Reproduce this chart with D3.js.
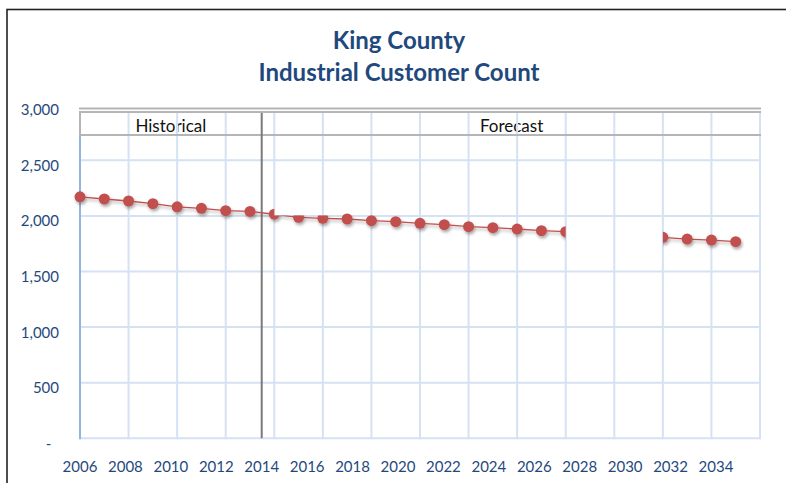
<!DOCTYPE html>
<html>
<head>
<meta charset="utf-8">
<script src="https://cdn.jsdelivr.net/npm/d3@7"></script>
<style>
  html, body { margin: 0; padding: 0; background: #fff; }
  svg { display: block; }
  text { font-family: Lato, "Open Sans", sans-serif; }
</style>
</head>
<body>
<svg id="chart" width="786" height="483"></svg>
<script>
// ---- data ----
const titleLines = ["King County", "Industrial Customer Count"];
const years = [2006, 2007, 2008, 2009, 2010, 2011, 2012, 2013, 2014, 2015,
               2016, 2017, 2018, 2019, 2020, 2021, 2022, 2023, 2024, 2025,
               2026, 2027, 2028, 2029, 2030, 2031, 2032, 2033];
const customers = [2172, 2152, 2134, 2110, 2082, 2068, 2047, 2040, 2015, 1987,
                   1978, 1972, 1957, 1948, 1933, 1921, 1903, 1894, 1882, 1867,
                   1858, null, null, null, 1807, 1792, 1783, 1768];
const yTicks = [0, 500, 1000, 1500, 2000, 2500, 3000];
const xTickLabels = [2006, 2008, 2010, 2012, 2014, 2016, 2018, 2020, 2022,
                     2024, 2026, 2028, 2030, 2032, 2034];
const gridYears = [2006, 2008, 2010, 2012, 2014, 2016, 2018, 2020, 2022,
                   2024, 2026, 2028, 2030, 2032, 2034];
const periods = [{label: "Historical", at: 2010}, {label: "Forecast", at: 2025}];
const dividerYear = 2014;

// ---- layout ----
const svg = d3.select("#chart");
const plot = {left: 80, right: 760, top: 104.7, bottom: 438.3};
const x = d3.scaleLinear().domain([2006, 2034]).range([plot.left, plot.right]);
const xLab = d3.scaleLinear().domain([2006, 2034]).range([80, 716]);
const y = d3.scaleLinear().domain([0, 3000]).range([plot.bottom, plot.top]);

const blue = "#1F497D";
const gridColor = "#D5E2F3";
const red = "#C0504D";

// outer border (cropped on right/bottom)
svg.append("rect").attr("x", 7).attr("y", 9.5).attr("width", 900).attr("height", 600)
  .attr("fill", "none").attr("stroke", "#222").attr("stroke-width", 1.6);

// title
svg.append("g").selectAll("text").data(titleLines).join("text")
  .attr("x", 399).attr("y", (d, i) => 49 + i * 32)
  .attr("text-anchor", "middle").attr("font-weight", 700).attr("font-size", 24)
  .attr("fill", blue).text(d => d);

// defs: shadow and mask
const defs = svg.append("defs");
const f = defs.append("filter").attr("id", "shadow").attr("x", "-50%").attr("y", "-50%")
  .attr("width", "200%").attr("height", "200%");
f.append("feDropShadow").attr("dx", 1.2).attr("dy", 2.2).attr("stdDeviation", 1.4)
  .attr("flood-color", "#000").attr("flood-opacity", 0.35);

const mask = defs.append("mask").attr("id", "dataMask").attr("maskUnits", "userSpaceOnUse")
  .attr("x", 0).attr("y", 0).attr("width", 786).attr("height", 483);
mask.append("rect").attr("x", 0).attr("y", 0).attr("width", 786).attr("height", 483).attr("fill", "#fff");
mask.append("rect").attr("x", x(2014)).attr("y", plot.top)
  .attr("width", x(2016.5) - x(2014)).attr("height", y(2000) - plot.top - 0.5).attr("fill", "#000");
mask.append("rect").attr("x", x(2026)).attr("y", plot.top)
  .attr("width", x(2030) - x(2026)).attr("height", plot.bottom - plot.top).attr("fill", "#000");

// header band text (under gridlines)
svg.append("g").selectAll("text").data(periods).join("text")
  .attr("x", d => xLab(d.at)).attr("y", 132)
  .attr("text-anchor", "middle").attr("font-size", 17).attr("fill", "#111")
  .text(d => d.label);

// horizontal gridlines
svg.append("g").selectAll("line").data(yTicks.filter(v => v < 3000)).join("line")
  .attr("x1", plot.left).attr("x2", plot.right + 1)
  .attr("y1", d => y(d)).attr("y2", d => y(d))
  .attr("stroke", gridColor).attr("stroke-width", 2);

// vertical gridlines
svg.append("g").selectAll("line").data(gridYears.slice(1)).join("line")
  .attr("x1", d => x(d)).attr("x2", d => x(d))
  .attr("y1", 113).attr("y2", plot.bottom + 1)
  .attr("stroke", gridColor).attr("stroke-width", 2);

// header band lines
const band = svg.append("g").attr("stroke", "#B5B5B5").attr("stroke-width", 2);
[108.5, 112, 135].forEach(yy => band.append("line")
  .attr("x1", plot.left - 1).attr("x2", plot.right + 1).attr("y1", yy).attr("y2", yy));
band.append("line").attr("x1", plot.left).attr("x2", plot.left).attr("y1", 112).attr("y2", 135);

// left axis line
svg.append("line").attr("x1", plot.left).attr("x2", plot.left)
  .attr("y1", 135).attr("y2", plot.bottom + 1)
  .attr("stroke", "#93B4DE").attr("stroke-width", 2);

// divider historical / forecast
svg.append("line").attr("x1", xLab(dividerYear)).attr("x2", xLab(dividerYear))
  .attr("y1", 113).attr("y2", plot.bottom)
  .attr("stroke", "#7A7A7A").attr("stroke-width", 2);

// y axis labels
svg.append("g").selectAll("text").data(yTicks).join("text")
  .attr("x", 59).attr("y", d => y(d) + 10.5)
  .attr("text-anchor", "end").attr("font-size", 15).attr("fill", blue)
  .text(d => d === 0 ? "-\u00a0\u00a0" : d3.format(",")(d));

// x axis labels
svg.append("g").selectAll("text").data(xTickLabels).join("text")
  .attr("x", d => xLab(d)).attr("y", 471.5)
  .attr("text-anchor", "middle").attr("font-size", 15).attr("fill", blue)
  .text(d => d);

// data
const pts = years.map((yr, i) => ({yr, v: customers[i]}));
const dataG = svg.append("g").attr("mask", "url(#dataMask)");
const inner = dataG.append("g").attr("filter", "url(#shadow)");
inner.append("path").datum(pts)
  .attr("d", d3.line().defined(d => d.v != null).x(d => x(d.yr)).y(d => y(d.v)))
  .attr("fill", "none").attr("stroke", red).attr("stroke-width", 1.3);
inner.selectAll("circle").data(pts.filter(d => d.v != null)).join("circle")
  .attr("cx", d => x(d.yr)).attr("cy", d => y(d.v)).attr("r", 5.5)
  .attr("fill", red);
</script>
</body>
</html>
